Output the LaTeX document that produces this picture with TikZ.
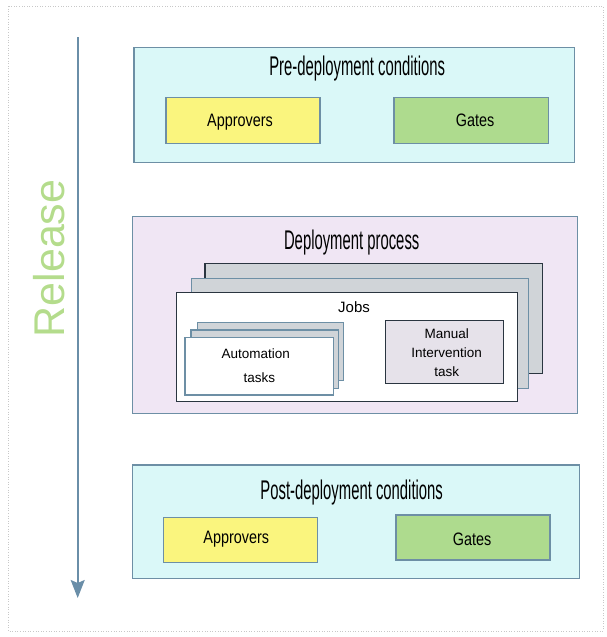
\documentclass[tikz,border=0pt]{standalone}
\usepackage{fontspec}
\setmainfont{Liberation Sans}
\newfontfamily\narrowf[FakeStretch=0.55]{Liberation Sans}
\newfontfamily\semif[FakeStretch=0.8]{Liberation Sans}
\usetikzlibrary{arrows.meta}
\definecolor{cyanfill}{HTML}{DAF8F8}
\definecolor{bordblue}{HTML}{6D8FA5}
\definecolor{yelfill}{HTML}{FAF57E}
\definecolor{grnfill}{HTML}{AEDB8E}
\definecolor{lavfill}{HTML}{F0E6F4}
\definecolor{grayfill}{HTML}{D0D4D8}
\definecolor{manfill}{HTML}{E6E2EA}
\definecolor{darkbord}{HTML}{2A3540}
\definecolor{arrowcol}{HTML}{6A8EA8}
\definecolor{relgreen}{HTML}{B4DC8C}
\definecolor{outerc}{HTML}{C8C8C8}
\begin{document}
\begin{tikzpicture}[x=1pt,y=-1pt,
  rbox/.style={draw=bordblue,line width=1.3pt,inner sep=0pt,outer sep=0pt,rectangle},
  stackbox/.style={draw=darkbord,line width=1.1pt,fill=grayfill,inner sep=0pt,outer sep=0pt,rectangle},
  titletext/.style={anchor=base,inner sep=0pt,font=\narrowf\fontsize{27}{31}\selectfont},
  condtext/.style={anchor=base,inner sep=0pt,font=\semif\fontsize{18}{22}\selectfont},
  smalltext/.style={anchor=base,inner sep=0pt,font=\fontsize{13.5}{16}\selectfont},
]
\useasboundingbox (0,0) rectangle (606,637);
\draw[outerc,dotted,line width=0.6pt] (8,6) rectangle (603,631);

% Release arrow
\coordinate (arrtop) at (77.7,37);
\coordinate (arrtip) at (77.7,598);
\draw[arrowcol,line width=1.6pt,-{Stealth[length=18pt,width=14pt,inset=3pt]}] (arrtop) -- (arrtip);
\node[rotate=90,inner sep=0pt,text=relgreen,font=\fontsize{43}{50}\selectfont] (release) at (49.5,258.5) {Release};

% Pre-deployment
\node[rbox,fill=cyanfill,minimum width=440.7pt,minimum height=115.4pt] (pre) at (354.35,105) {};
\node[titletext] (pretitle) at (357.2,75) {Pre-deployment conditions};
\node[rbox,fill=yelfill,minimum width=154pt,minimum height=45.6pt] (preA) at (243,120.5) {};
\node[rbox,fill=grnfill,minimum width=154.3pt,minimum height=45.6pt] (preG) at (471.2,120.5) {};
\node[condtext] (preAt) at (240,126.5) {Approvers};
\node[condtext] (preGt) at (475,126.5) {Gates};

% Deployment process
\node[rbox,fill=lavfill,minimum width=444.6pt,minimum height=196.6pt] (dep) at (355,315) {};
\node[titletext] (deptitle) at (351.7,249.3) {Deployment process};
\node[stackbox,minimum width=337.7pt,minimum height=110pt] (jb1) at (373.85,318.3) {};
\node[stackbox,draw=bordblue,minimum width=336.6pt,minimum height=110pt] (jb2) at (360,333.3) {};
\node[stackbox,fill=white,minimum width=340.6pt,minimum height=109.4pt] (jobs) at (347,347) {};
\node[smalltext,font=\fontsize{15}{18}\selectfont] (jobst) at (354,312.7) {Jobs};
\node[stackbox,draw=bordblue,minimum width=146pt,minimum height=58.4pt] (at1) at (270.3,351.5) {};
\node[stackbox,draw=bordblue,minimum width=147.3pt,minimum height=58.3pt] (at2) at (264.65,359.15) {};
\node[stackbox,draw=bordblue,fill=white,minimum width=148.3pt,minimum height=57.7pt] (auto) at (259.15,366.15) {};
\node[smalltext] (autot1) at (255.7,358.3) {Automation};
\node[smalltext] (autot2) at (259.3,382.7) {tasks};
\node[stackbox,fill=manfill,minimum width=117.6pt,minimum height=62.6pt] (man) at (444.5,352) {};
\node[smalltext] (mant1) at (446.7,338.3) {Manual};
\node[smalltext] (mant2) at (446.7,357.3) {Intervention};
\node[smalltext] (mant3) at (446.7,376) {task};

% Post-deployment
\node[rbox,fill=cyanfill,minimum width=446.8pt,minimum height=113.5pt] (post) at (355.9,521.7) {};
\node[titletext] (posttitle) at (351.7,499.3) {Post-deployment conditions};
\node[rbox,fill=yelfill,minimum width=154pt,minimum height=45pt] (postA) at (240.3,540.2) {};
\node[rbox,fill=grnfill,minimum width=154pt,minimum height=45pt] (postG) at (473,537.5) {};
\node[condtext] (postAt) at (236.3,543.3) {Approvers};
\node[condtext] (postGt) at (472,545) {Gates};
\end{tikzpicture}
\end{document}
